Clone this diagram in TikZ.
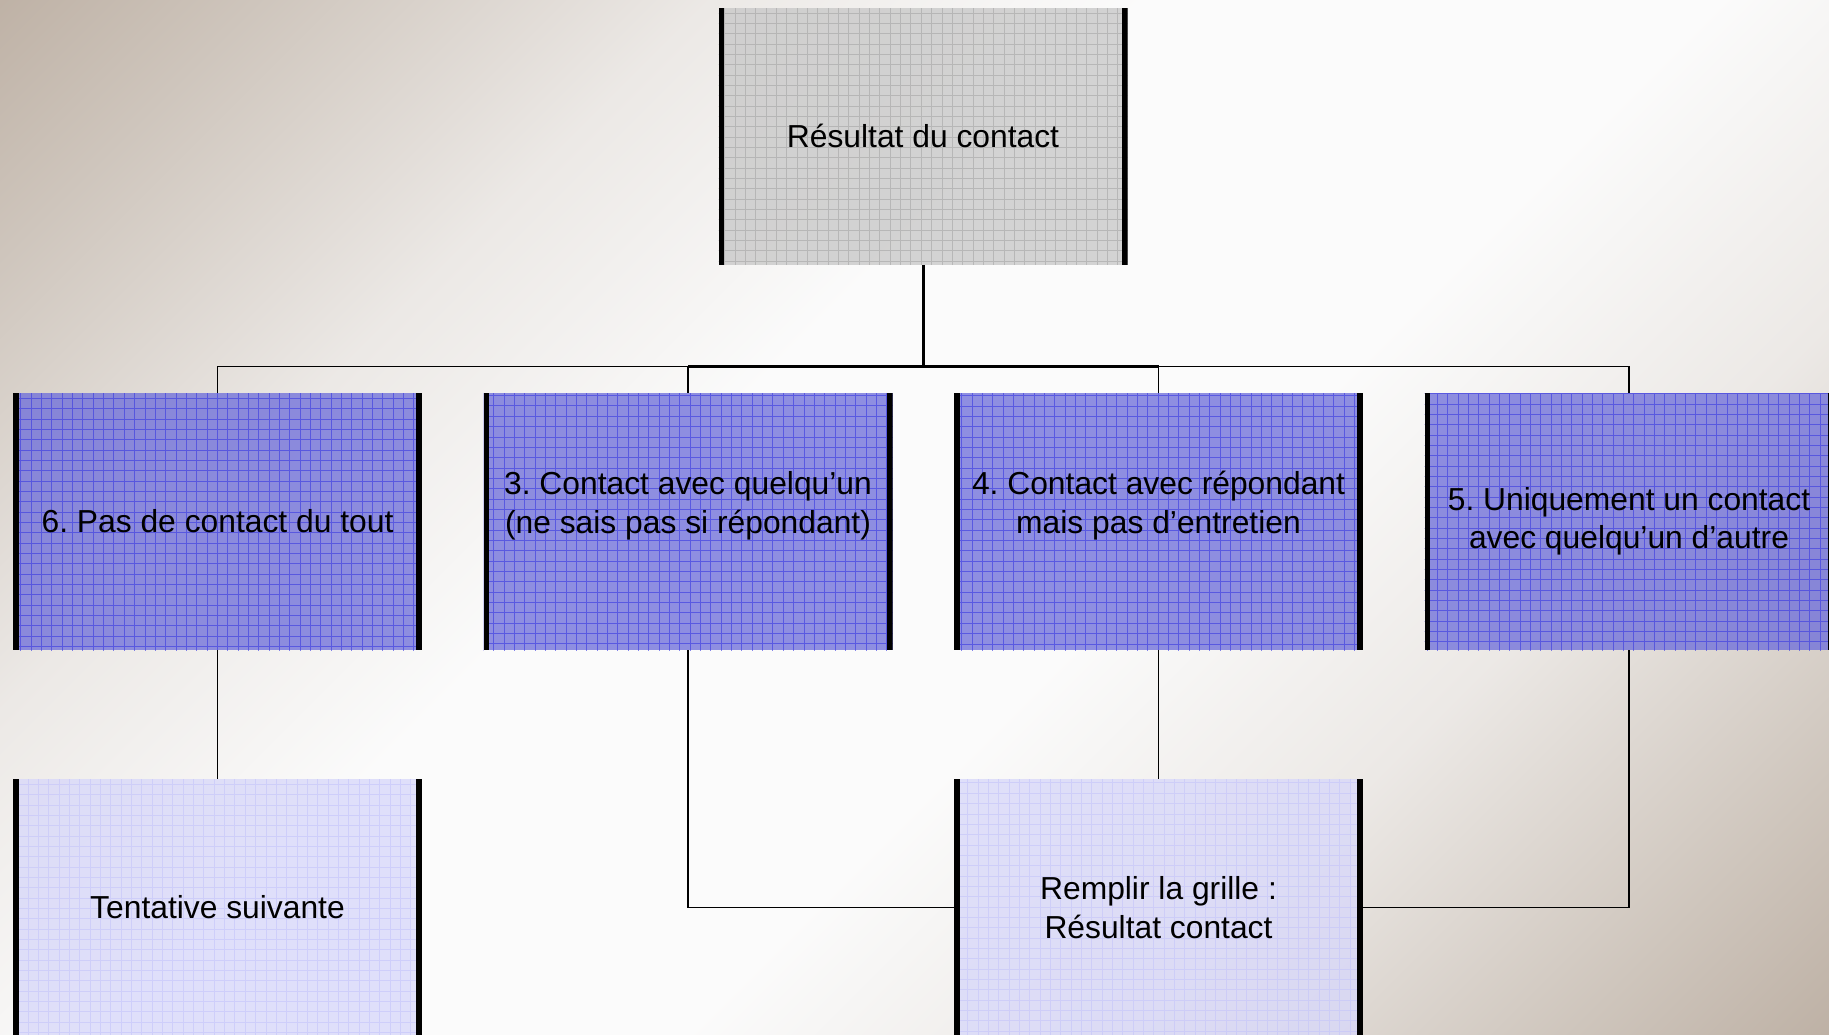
\documentclass[tikz,border=0pt]{standalone}
\usepackage{fontspec}
\setmainfont{Liberation Sans}
\frenchspacing
\pgfdeclarehorizontalshading{bgshade}{100bp}{rgb(0bp)=(0.620,0.555,0.495); rgb(10bp)=(0.705,0.645,0.590); rgb(21bp)=(0.810,0.775,0.740); rgb(32bp)=(0.925,0.912,0.900); rgb(43bp)=(0.985,0.985,0.985); rgb(57bp)=(0.985,0.985,0.985); rgb(68bp)=(0.925,0.912,0.900); rgb(79bp)=(0.810,0.775,0.740); rgb(90bp)=(0.700,0.640,0.585); rgb(100bp)=(0.610,0.545,0.485)}
\definecolor{topfill}{RGB}{200,200,200}
\definecolor{topgrid}{RGB}{165,165,165}
\definecolor{midfill}{RGB}{112,112,218}
\definecolor{midgrid}{RGB}{55,55,225}
\definecolor{lowfill}{RGB}{216,216,250}
\definecolor{lowgrid}{RGB}{196,196,250}
\tikzset{
  box/.style={rectangle, inner sep=0pt, minimum width=204.5pt, minimum height=128.5pt,
    fill=#1fill, fill opacity=0.78, text opacity=1, text=black, align=center,
    font=\fontsize{15.9pt}{19.2pt}\selectfont,
    path picture={
      \draw[#1grid, line width=0.5pt, draw opacity=0.6]
        ([shift={(-6pt,-6pt)}]path picture bounding box.south west) grid[step=5.17pt]
        (path picture bounding box.north east);
      \fill[black, opacity=1] (path picture bounding box.south west) rectangle
        ([xshift=2.9pt]path picture bounding box.north west);
      \fill[black, opacity=1] ([xshift=-2.9pt]path picture bounding box.south east) rectangle
        (path picture bounding box.north east);
    }},
  topbox/.style={box=top},
  midbox/.style={box=mid},
  lowbox/.style={box=low},
  thinline/.style={draw=black, line width=0.75pt},
  thickline/.style={draw=black, line width=1.5pt},
}
\begin{document}
\begin{tikzpicture}[x=0.5pt, y=-0.5pt]
\useasboundingbox (0,0) rectangle (1829,1034);
\clip (0,0) rectangle (1829,1034);
\shade[shading=bgshade, shading angle=-45] (0,0) rectangle (1829,1034);

\node[topbox] (top) at (923,136) {Résultat du contact};
\node[midbox] (b6) at (217.5,521.5) {6. Pas de contact du tout};
\node[midbox] (b3) at (688,521.5) {3. Contact avec quelqu’un\\(ne sais pas si répondant)\\\mbox{}};
\node[midbox] (b4) at (1158.5,521.5) {4. Contact avec répondant\\mais pas d’entretien\\\mbox{}};
\node[midbox] (b5) at (1629,521.5) {5. Uniquement un contact\\avec quelqu’un d’autre};
\node[lowbox] (tent) at (217.5,907.5) {Tentative suivante};
\node[lowbox] (rempl) at (1158.5,907.5) {Remplir la grille :\\Résultat contact};

\coordinate (bus) at (923,366.5);
\draw[thickline] (top.south) -- (bus);
\draw[thinline] (b6.north) |- (bus) -| (b5.north);
\draw[thickline] (b3.north |- bus) -- (b4.north |- bus);
\draw[thinline] (b3.north) -- (b3.north |- bus);
\draw[thinline] (b4.north) -- (b4.north |- bus);
\draw[thinline] (b6.south) -- (tent.north);
\draw[thinline] (b4.south) -- (rempl.north);
\draw[thinline] (b3.south) |- (rempl.west);
\draw[thinline] (b5.south) |- (rempl.east);
\end{tikzpicture}
\end{document}
